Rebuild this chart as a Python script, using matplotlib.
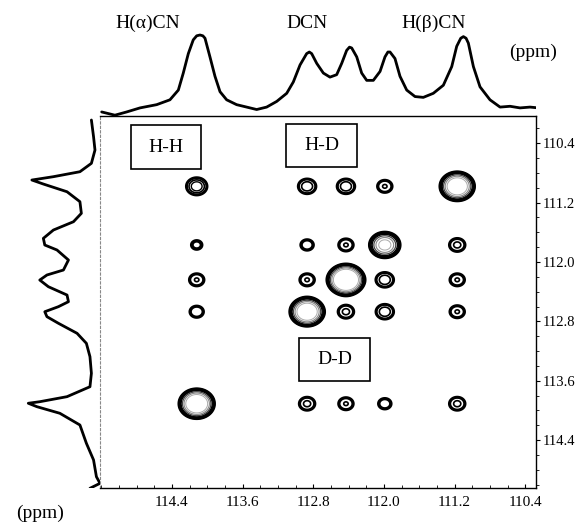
import numpy as np
import matplotlib
matplotlib.use('Agg')
import matplotlib.pyplot as plt
from matplotlib.patches import Rectangle

plt.rcParams['font.family'] = ['Liberation Serif', 'DejaVu Serif']

# ---- 2D cross-peak data (ppm) ----
col_ppm = [114.12, 112.87, 112.43, 111.99, 111.17]   # F2 (horizontal)
row_ppm = [110.98, 111.77, 112.24, 112.67, 113.91]   # F1 (vertical)
peak_amp = [
    [2.39, 1.90, 1.90, 1.56, 11.3],
    [1.27, 1.40, 1.56, 6.70, 1.66],
    [1.56, 1.56, 17.4, 1.90, 1.56],
    [1.47, 11.3, 1.66, 1.90, 1.56],
    [12.9, 1.66, 1.56, 1.40, 1.66],
]
peak_sigma_x = 0.09
peak_sigma_y = 0.09

# ---- top 1D projection (ppm, normalised intensity) ----
top_ppm = [115.196, 115.046, 114.913, 114.762, 114.573, 114.423, 114.328, 114.272,
           114.215, 114.159, 114.120, 114.083, 114.050, 114.026, 113.970, 113.913,
           113.856, 113.781,
           113.668, 113.554, 113.441, 113.328, 113.214, 113.101, 113.026, 112.950,
           112.875, 112.845, 112.818, 112.761, 112.686, 112.611, 112.535, 112.478,
           112.422, 112.390, 112.365, 112.308, 112.252, 112.195, 112.120, 112.044,
           111.988, 111.955, 111.931, 111.875, 111.818, 111.742, 111.648, 111.554,
           111.441, 111.327, 111.232, 111.176, 111.130, 111.100, 111.070, 111.044,
           110.987, 110.912, 110.799, 110.685, 110.572, 110.459, 110.346, 110.252]
top_int = [0.05, 0.01, 0.05, 0.10, 0.14, 0.20, 0.32, 0.53,
           0.77, 0.94, 0.99, 1.00, 0.99, 0.96, 0.73, 0.49,
           0.30, 0.20,
           0.14, 0.11, 0.08, 0.11, 0.18, 0.28, 0.42, 0.63,
           0.77, 0.79, 0.77, 0.65, 0.53, 0.48, 0.51, 0.65,
           0.81, 0.85, 0.84, 0.73, 0.53, 0.44, 0.44, 0.55,
           0.73, 0.79, 0.79, 0.71, 0.49, 0.32, 0.24, 0.23,
           0.28, 0.38, 0.61, 0.86, 0.96, 0.98, 0.96, 0.90,
           0.61, 0.36, 0.20, 0.11, 0.12, 0.10, 0.11, 0.10]

# ---- left 1D projection (ppm, normalised intensity) ----
left_ppm = [110.086, 110.311, 110.491, 110.670, 110.783, 110.850, 110.895, 110.949,
            111.053, 111.187, 111.344, 111.457, 111.569, 111.681, 111.771, 111.838,
            111.973, 112.108, 112.175, 112.243, 112.333, 112.445, 112.535, 112.602,
            112.670, 112.737, 112.826, 112.961, 113.096, 113.276, 113.500, 113.681,
            113.815, 113.883, 113.904, 113.950, 114.039, 114.197, 114.443, 114.668,
            114.894, 114.983, 115.050]
left_int = [0.12, 0.09, 0.07, 0.12, 0.28, 0.65, 0.95, 0.79,
            0.46, 0.28, 0.26, 0.37, 0.65, 0.79, 0.77, 0.60,
            0.44, 0.51, 0.74, 0.84, 0.72, 0.46, 0.44, 0.58,
            0.77, 0.74, 0.58, 0.32, 0.19, 0.14, 0.12, 0.14,
            0.46, 0.84, 1.00, 0.88, 0.56, 0.28, 0.19, 0.09,
            0.05, 0.00, 0.14]

tick_vals = [114.4, 113.6, 112.8, 112.0, 111.2, 110.4]
tick_labels = ['114.4', '113.6', '112.8', '112.0', '111.2', '110.4']

peak_names = ['H(\u03b1)CN', 'DCN', 'H(\u03b2)CN']
peak_name_ppm = [114.67, 112.87, 111.44]
box_names = ['H-H', 'H-D', 'D-D']

xlim = (115.215, 110.278)
ylim = (115.046, 110.032)

W, H = 578, 523
fig = plt.figure(figsize=(W / 100, H / 100), dpi=100)

ax = fig.add_axes([100 / W, 35 / H, 436 / W, 372 / H])
ax_top = fig.add_axes([100 / W, 407 / H, 436 / W, 116 / H])
ax_left = fig.add_axes([0, 35 / H, 100 / W, 372 / H])

# contour field
xg = np.linspace(xlim[1], xlim[0], 900)
yg = np.linspace(ylim[1], ylim[0], 800)
X, Y = np.meshgrid(xg, yg)
Z = np.zeros_like(X)
for i, yc in enumerate(row_ppm):
    for j, xc in enumerate(col_ppm):
        Z += peak_amp[i][j] * np.exp(-0.5 * ((X - xc) / peak_sigma_x) ** 2
                                     - 0.5 * ((Y - yc) / peak_sigma_y) ** 2)
levels = [1.0, 1.12, 1.5, 1.9, 2.6, 3.6, 5.0]
ax.contour(X, Y, Z, levels=levels,
           colors=['black', 'black', 'black', 'black', '#444444', '#888888', '#aaaaaa'],
           linewidths=[1.8, 1.5, 1.2, 1.0, 0.9, 0.8, 0.7])

ax.set_xlim(*xlim)
ax.set_ylim(*ylim)
ax.yaxis.tick_right()
ax.set_xticks(tick_vals)
ax.set_xticklabels(tick_labels)
ax.set_yticks(tick_vals)
ax.set_yticklabels(tick_labels)
ax.set_xticks(np.arange(110.4, 115.21, 0.2), minor=True)
ax.set_yticks(np.arange(110.2, 115.01, 0.2), minor=True)
ax.tick_params(axis='x', which='major', direction='in', length=3, width=0.8,
               pad=6, labelsize=11, top=False)
ax.tick_params(axis='x', which='minor', direction='in', length=2, width=0.6, top=False)
ax.tick_params(axis='y', which='major', direction='out', length=3, width=0.8,
               pad=1.5, labelsize=10.5, left=False, right=True)
ax.tick_params(axis='y', which='minor', direction='out', length=2, width=0.6,
               left=False, right=True)
for s in ['right', 'bottom', 'top']:
    ax.spines[s].set_linewidth(1.0)
    ax.spines[s].set_color('black')
ax.spines['left'].set_color('#888888')
ax.spines['left'].set_linewidth(0.8)
ax.spines['left'].set_linestyle((0, (2, 2)))

# boxes
box_specs = [
    ((114.864, 110.154), (114.072, 110.747), (114.468, 110.450)),
    ((113.109, 110.140), (112.305, 110.720), (112.707, 110.430)),
    ((112.962, 113.024), (112.158, 113.604), (112.560, 113.314)),
]
for name, (p0, p1, c) in zip(box_names, box_specs):
    ax.add_patch(Rectangle((p0[0], p0[1]), p1[0] - p0[0], p1[1] - p0[1],
                           fill=False, edgecolor='black', linewidth=1.2))
    ax.text(c[0], c[1], name, ha='center', va='center', fontsize=14)

# top projection
ax_top.plot(top_ppm, top_int, color='black', linewidth=2.0,
            solid_joinstyle='round', solid_capstyle='round')
ax_top.set_xlim(*xlim)
ax_top.set_ylim(0, 116 / 81)
ax_top.axis('off')
for name, xp in zip(peak_names, peak_name_ppm):
    ax_top.text(xp, 1.14, name, ha='center', va='center', fontsize=14)
ax_top.text(110.31, 0.78, '(ppm)', ha='center', va='center', fontsize=14)

# left projection
ax_left.plot(left_int, left_ppm, color='black', linewidth=2.0,
             solid_joinstyle='round', solid_capstyle='round')
ax_left.set_xlim(100 / 71.7, 0)
ax_left.set_ylim(*ylim)
ax_left.axis('off')

fig.text(40 / W, 10 / H, '(ppm)', ha='center', va='center', fontsize=14)

fig.savefig('out.png', dpi=100)
